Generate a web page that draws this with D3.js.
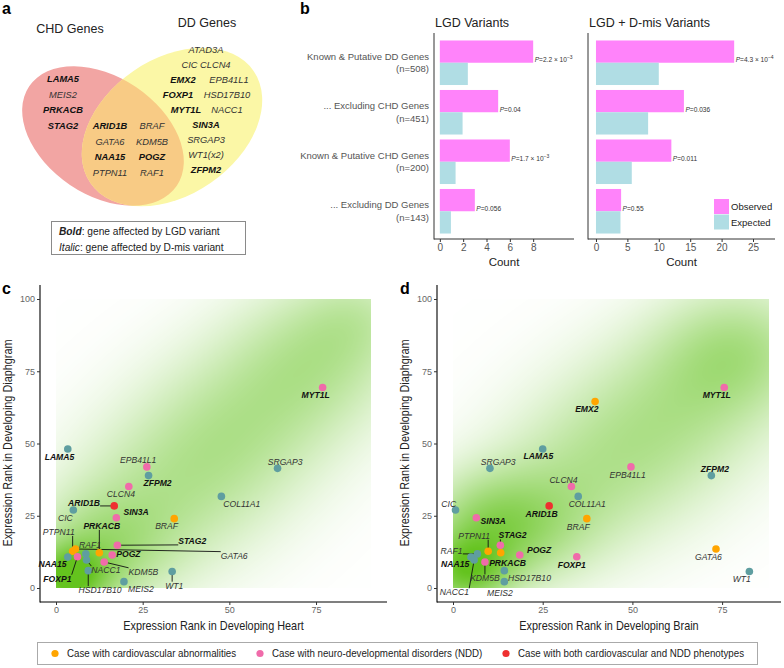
<!DOCTYPE html>
<html><head><meta charset="utf-8">
<script src="https://cdn.jsdelivr.net/npm/d3@7"></script>
<style>
body{margin:0;background:#fff}
svg{display:block}
text{font-family:"Liberation Sans",Arial,Helvetica,sans-serif}
</style></head>
<body>
<svg id="fig" width="784" height="668"></svg>
<script>
// ---------------- DATA ----------------
// Panel a: Venn gene lists
const lgdGenes = ["LAMA5","PRKACB","STAG2","ARID1B","NAA15","POGZ","EMX2","FOXP1","MYT1L","SIN3A","ZFPM2"];
const chdOnlyGenes = ["LAMA5","MEIS2","PRKACB","STAG2"];
const overlapLeftGenes = ["ARID1B","GATA6","NAA15","PTPN11"];
const overlapRightGenes = ["BRAF","KDM5B","POGZ","RAF1"];
const ddOnlyRows = [["ATAD3A"],["CIC","CLCN4"],["EMX2","EPB41L1"],["FOXP1","HSD17B10"],["MYT1L","NACC1"],["SIN3A"],["SRGAP3"],["WT1(x2)"],["ZFPM2"]];

// Panel b: enrichment bars
const enrichCategories = ["Known & Putative DD Genes","... Excluding CHD Genes","Known & Putative CHD Genes","... Excluding DD Genes"];
const enrichN = ["(n=508)","(n=451)","(n=200)","(n=143)"];
const lgdObserved = [8,5,6,3];
const lgdExpected = [2.4,1.95,1.35,0.95];
const lgdPvalue = [["2.2","−3"],["0.04",null],["1.7","−3"],["0.056",null]];
const allObserved = [22,14,12,4];
const allExpected = [10.0,8.3,5.7,3.9];
const allPvalue = [["4.3","−4"],["0.036",null],["0.011",null],["0.55",null]];
const lgdTicks = [0,2,4,6,8];
const allTicks = [0,5,10,15,20,25];
const lgdCountLimits = [-0.5,11.5];
const allCountLimits = [-1.27,28.5];

// Panels c/d: expression ranks
const genes = ["LAMA5","EPB41L1","ZFPM2","CLCN4","ARID1B","CIC","SIN3A","BRAF","COL11A1","SRGAP3","MYT1L","STAG2","PTPN11","GATA6","PRKACB","POGZ","FOXP1","KDM5B","HSD17B10","MEIS2","NAA15","NACC1","RAF1","WT1","EMX2"];
const caseType = ["none","ndd","none","ndd","both","none","ndd","cardio","none","none","ndd","ndd","cardio","cardio","cardio","ndd","ndd","ndd","none","none","none","none","none","none","cardio"];
const heartRank =     [3.4,26.2,26.7,21.0,16.8,5.0,17.4,34.1,47.7,63.9,76.9,17.7,4.8,5.6,12.5,16.2,6.2,13.9,9.3,19.6,3.4,8.8,8.6,33.5,null];
const brainRank =     [25.0,49.6,72.0,33.0,26.8,0.7,6.5,37.3,34.9,10.3,75.6,13.2,9.8,73.3,13.3,18.6,34.5,8.9,14.3,14.3,5.0,5.9,6.8,82.6,39.6];
const diaphragmRank = [48.1,41.9,38.9,35.1,28.4,27.0,24.3,24.0,31.7,41.4,69.4,14.8,12.7,13.5,12.2,11.4,10.8,9.0,6.0,2.2,10.7,9.7,11.8,5.7,64.5];
// label anchor positions (data units)
const heartLabelX = [1.0,23.7,29.3,18.7,8.1,2.7,23.1,31.9,53.6,66.1,74.9,39.3,0.8,51.4,13.2,20.9,0.4,25.2,12.7,24.5,-1.0,14.4,9.8,34.1,null];
const heartLabelY = [45.4,44.2,36.2,32.4,29.3,24.3,26.3,21.5,29.2,43.7,66.7,16.3,19.4,11.2,21.5,11.7,3.2,5.6,-0.7,-0.45,8.3,6.2,14.8,0.8,null];
const brainLabelX = [23.8,48.7,73.0,30.8,24.7,-1.2,11.2,34.9,37.4,12.6,73.5,16.6,5.9,71.2,15.2,24.0,33.1,8.9,21.3,13.1,0.6,0.4,-0.4,80.5,37.3];
const brainLabelY = [45.6,39.1,41.3,37.5,25.7,29.1,23.3,21.2,29.0,43.6,66.8,18.2,18.1,10.8,8.5,13.3,8.0,3.3,3.6,-1.8,8.3,-1.5,12.9,3.1,61.9];
const heartSegments = ["ARID1B","PRKACB","PTPN11","STAG2","GATA6","FOXP1","NACC1","KDM5B","HSD17B10","WT1"];
const brainSegments = ["PTPN11","STAG2","RAF1","KDM5B","NACC1"];
const rankTicks = [0,25,50,75,100];
// background gene-density estimate (kernel blobs, data units)
const heartDensity = [{x:3,y:3,s:8,w:0.75},{x:12,y:12,s:14,w:0.45},{x:30,y:30,s:20,w:0.35},{x:52,y:55,s:20,w:0.38},{x:75,y:80,s:18,w:0.4},{x:88,y:95,s:12,w:0.2}];
const brainDensity = [{x:3,y:5,s:9,w:0.7},{x:8,y:22,s:13,w:0.4},{x:20,y:20,s:15,w:0.35},{x:40,y:40,s:20,w:0.35},{x:62,y:62,s:20,w:0.35},{x:80,y:83,s:16,w:0.45}];
const legendLabels = ["Case with cardiovascular abnormalities","Case with neuro-developmental disorders (NDD)","Case with both cardiovascular and NDD phenotypes"];
const legendTypes = ["cardio","ndd","both"];

// ---------------- STYLE ----------------
const typeColor = {none:"#5F9EA0", ndd:"#F06BAA", cardio:"#FFA500", both:"#EE3030"};
const svg = d3.select("#fig");
const defs = svg.append("defs");
const isLGD = g => lgdGenes.includes(g.replace("(x2)",""));
function narrowText(parent,x,y,str,size,sx,anchor,rot){
  return parent.append("text").attr("transform",`translate(${x},${y})${rot?` rotate(${rot})`:""} scale(${sx},1)`)
    .attr("text-anchor",anchor||"start").attr("font-size",size).attr("fill","#222").text(str);
}

[["a",2,14],["b",300,14],["c",2,294],["d",400,294]].forEach(([t,x,y])=>{
  svg.append("text").attr("x",x).attr("y",y).text(t).attr("font-size",16).attr("font-weight","bold").attr("fill","#000");
});

// ---------------- PANEL A ----------------
(function(){
  const g = svg.append("g");
  const pink = {cx:103,cy:136,rx:89,ry:59,rot:34};
  const yel = {cx:172,cy:127,rx:99,ry:68,rot:-34.5};
  const ell = (sel,e)=>sel.attr("cx",e.cx).attr("cy",e.cy).attr("rx",e.rx).attr("ry",e.ry).attr("transform",`rotate(${e.rot},${e.cx},${e.cy})`);
  ell(defs.append("clipPath").attr("id","ddClip").append("ellipse"),yel);
  ell(g.append("ellipse"),pink).attr("fill","#F2A5A3");
  ell(g.append("ellipse"),yel).attr("fill","#FBF7A6");
  ell(g.append("g").attr("clip-path","url(#ddClip)").append("ellipse"),pink).attr("fill","#F8CB85");
  g.append("text").attr("x",70).attr("y",33).attr("text-anchor","middle").attr("font-size",12.5).attr("fill","#222").text("CHD Genes");
  g.append("text").attr("x",207).attr("y",27).attr("text-anchor","middle").attr("font-size",12.5).attr("fill","#222").text("DD Genes");
  const gene = (name,x,y,anchor)=>g.append("text").attr("x",x).attr("y",y+3.3).attr("text-anchor",anchor||"middle")
      .attr("font-size",9.3).attr("font-style","italic").attr("font-weight",isLGD(name)?"bold":"normal")
      .attr("fill",isLGD(name)?"#111":"#333").text(name);
  chdOnlyGenes.forEach((n,i)=>gene(n,63,79+i*15.5));
  overlapLeftGenes.forEach((n,i)=>gene(n,110,126+i*15.5));
  overlapRightGenes.forEach((n,i)=>gene(n,152,126+i*15.5));
  const ddCenters = [[206],[183,229],[183,229],[178,227],[186,227],[206],[206],[206],[206]];
  ddOnlyRows.forEach((row,i)=>{
    if(row.length===2 && i===1){
      gene(row[0]+"  "+row[1],206,49.5+i*15);
    } else row.forEach((n,j)=>gene(n,ddCenters[i][j],49.5+i*15));
  });
  g.append("rect").attr("x",51.5).attr("y",221.5).attr("width",194).attr("height",33).attr("fill","#fff").attr("stroke","#8a8a8a");
  const t1 = g.append("text").attr("x",59).attr("y",235).attr("font-size",10.2).attr("fill","#222");
  t1.append("tspan").attr("font-weight","bold").attr("font-style","italic").text("Bold");
  t1.append("tspan").text(":  gene affected by LGD variant");
  const t2 = g.append("text").attr("x",59).attr("y",250.5).attr("font-size",10.2).attr("fill","#222");
  t2.append("tspan").attr("font-style","italic").text("Italic");
  t2.append("tspan").text(":  gene affected by D-mis variant");
})();

// ---------------- PANEL B ----------------
function barPanel(x0,x1,limits,obs,exp,pv,ticks,title,showCats,showLegend){
  const g = svg.append("g");
  const x = d3.scaleLinear().domain(limits).range([x0,x1]);
  const y = d3.scaleBand().domain(d3.range(4)).range([38,236]).paddingInner(0.1).paddingOuter(0.05);
  const bw = y.bandwidth()/2;
  g.append("text").attr("x",x0+1).attr("y",27).attr("font-size",12.5).attr("fill","#222").text(title);
  g.selectAll(".obs").data(obs).join("rect").attr("x",x(0)).attr("y",(d,i)=>y(i)).attr("width",d=>x(d)-x(0)).attr("height",bw).attr("fill","#FF83FA");
  g.selectAll(".exp").data(exp).join("rect").attr("x",x(0)).attr("y",(d,i)=>y(i)+bw).attr("width",d=>x(d)-x(0)).attr("height",bw).attr("fill","#B0DDE4");
  pv.forEach((p,i)=>{
    const t = g.append("text").attr("x",x(obs[i])+1.5).attr("y",y(i)+bw-0.5).attr("font-size",6.6).attr("fill","#333");
    t.append("tspan").attr("font-style","italic").text("P");
    t.append("tspan").text("="+p[0]+(p[1]?" × 10":""));
    if(p[1]) t.append("tspan").attr("dy",-3).attr("font-size",5).text(p[1]);
  });
  g.append("line").attr("x1",x0).attr("x2",x0).attr("y1",33).attr("y2",239.5).attr("stroke","#333").attr("stroke-width",1);
  g.append("line").attr("x1",x0).attr("x2",x1).attr("y1",239).attr("y2",239).attr("stroke","#333").attr("stroke-width",1);
  const ax = g.append("g").attr("transform","translate(0,239)").call(d3.axisBottom(x).tickValues(ticks).tickSize(3).tickPadding(2));
  ax.select(".domain").remove();
  ax.selectAll("line").attr("stroke","#333");
  ax.selectAll("text").attr("font-size",10).attr("fill","#555").attr("font-family",null);
  g.append("text").attr("x",(x0+x1)/2).attr("y",266).attr("text-anchor","middle").attr("font-size",11.5).attr("fill","#222").text("Count");
  if(showCats){
    enrichCategories.forEach((c,i)=>{
      const cy = y(i)+y.bandwidth()/2;
      g.append("text").attr("x",429).attr("y",cy-3).attr("text-anchor","end").attr("font-size",9.5).attr("fill","#555").text(c);
      g.append("text").attr("x",429).attr("y",cy+9.5).attr("text-anchor","end").attr("font-size",9.5).attr("fill","#555").text(enrichN[i]);
    });
  }
  if(showLegend){
    g.append("rect").attr("x",714).attr("y",199).attr("width",15).attr("height",15).attr("fill","#FF83FA");
    g.append("rect").attr("x",714).attr("y",214.5).attr("width",15).attr("height",15).attr("fill","#B0DDE4");
    g.append("text").attr("x",731).attr("y",210).attr("font-size",9.5).attr("fill","#222").text("Observed");
    g.append("text").attr("x",731).attr("y",226).attr("font-size",9.5).attr("fill","#222").text("Expected");
  }
}
barPanel(434,574,lgdCountLimits,lgdObserved,lgdExpected,lgdPvalue,lgdTicks,"LGD Variants",true,false);
barPanel(588,775,allCountLimits,allObserved,allExpected,allPvalue,allTicks,"LGD + D-mis Variants",false,true);

// ---------------- PANELS C / D ----------------
function scatterPanel(o){
  const g = svg.append("g");
  const x = d3.scaleLinear().domain([0,100]).range([o.x0, o.x0+o.pxPer100]);
  const y = d3.scaleLinear().domain([0,100]).range([588,299]);
  const rx0 = Math.round(x(0)), rx1 = Math.round(x(o.rasterMax)), ry0 = Math.round(y(100)), ry1 = Math.round(y(0));
  const cw = rx1-rx0, ch = ry1-ry0;
  const cv = document.createElement("canvas"); cv.width=cw; cv.height=ch;
  const ctx = cv.getContext("2d"); const img = ctx.createImageData(cw,ch);
  for(let j=0;j<ch;j++){
    const dy = y.invert(ry0+j+0.5);
    for(let i=0;i<cw;i++){
      const dx = x.invert(rx0+i+0.5);
      let f=0;
      for(const b of o.blobs){ const d2=(dx-b.x)**2+(dy-b.y)**2; f+=b.w*Math.exp(-d2/(2*b.s*b.s)); }
      const a = Math.min(1,f);
      const k=(j*cw+i)*4; img.data[k]=100; img.data[k+1]=195; img.data[k+2]=30; img.data[k+3]=Math.round(a*255);
    }
  }
  ctx.putImageData(img,0,0);
  g.append("image").attr("x",rx0).attr("y",ry0).attr("width",cw).attr("height",ch).attr("href",cv.toDataURL());
  g.append("line").attr("x1",o.axX).attr("x2",o.axX).attr("y1",285).attr("y2",602.5).attr("stroke","#000").attr("stroke-width",1.1);
  g.append("line").attr("x1",o.axX).attr("x2",o.axX1).attr("y1",602).attr("y2",602).attr("stroke","#000").attr("stroke-width",1.1);
  const ay = g.append("g").attr("transform",`translate(${o.axX},0)`).call(d3.axisLeft(y).tickValues(rankTicks).tickSize(3).tickPadding(2));
  const axb = g.append("g").attr("transform","translate(0,602)").call(d3.axisBottom(x).tickValues(rankTicks.slice(0,4)).tickSize(3).tickPadding(2));
  [ay,axb].forEach(a=>{a.select(".domain").remove(); a.selectAll("line").attr("stroke","#333"); a.selectAll("text").attr("font-size",9).attr("fill","#666").attr("font-family",null);});
  narrowText(g,(o.axX+o.axX1)/2,630,o.xTitle,12.5,0.87,"middle");
  narrowText(g,o.axX-28,443,"Expression Rank in Developing Diaphgram",12.5,0.87,"middle",-90);
  const pts = genes.map((n,i)=>({n,i,vx:o.rank[i],vy:diaphragmRank[i],lx:o.lx[i],ly:o.ly[i],t:caseType[i]})).filter(d=>d.vx!=null);
  const segG = g.append("g"), ptG = g.append("g"), lbG = g.append("g");
  pts.forEach(d=>{
    ptG.append("circle").attr("cx",x(d.vx)).attr("cy",y(d.vy)).attr("r",3.8).attr("fill",typeColor[d.t]);
    const lb = lbG.append("text").attr("x",x(d.lx)).attr("y",y(d.ly)+3).attr("text-anchor","middle")
      .attr("font-size",8.6).attr("font-style","italic").attr("font-weight",isLGD(d.n)?"bold":"normal")
      .attr("fill",isLGD(d.n)?"#111":"#333").text(d.n);
    if(o.segs.includes(d.n)){
      const bb = lb.node().getBBox();
      const px=x(d.vx), py=y(d.vy);
      const nx=Math.max(bb.x,Math.min(px,bb.x+bb.width)), ny=Math.max(bb.y+1,Math.min(py,bb.y+bb.height-1));
      segG.append("line").attr("x1",px).attr("y1",py).attr("x2",nx).attr("y2",ny).attr("stroke","#111").attr("stroke-width",0.9);
    }
  });
}
scatterPanel({x0:56,pxPer100:346.7,rasterMax:91,axX:40,axX1:387,rank:heartRank,lx:heartLabelX,ly:heartLabelY,segs:heartSegments,blobs:heartDensity,xTitle:"Expression Rank in Developing Heart"});
scatterPanel({x0:453,pxPer100:358.8,rasterMax:88,axX:437,axX1:781,rank:brainRank,lx:brainLabelX,ly:brainLabelY,segs:brainSegments,blobs:brainDensity,xTitle:"Expression Rank in Developing Brain"});

// ---------------- BOTTOM LEGEND ----------------
(function(){
  const g = svg.append("g");
  g.append("rect").attr("x",37.5).attr("y",642.5).attr("width",720).attr("height",22).attr("fill","#fff").attr("stroke","#aaa");
  const xs=[55,260,506];
  legendTypes.forEach((t,i)=>{
    g.append("circle").attr("cx",xs[i]).attr("cy",653.5).attr("r",3.6).attr("fill",typeColor[t]);
    narrowText(g,xs[i]+12,657,legendLabels[i],10.5,0.93,"start");
  });
})();
</script>
</body></html>
